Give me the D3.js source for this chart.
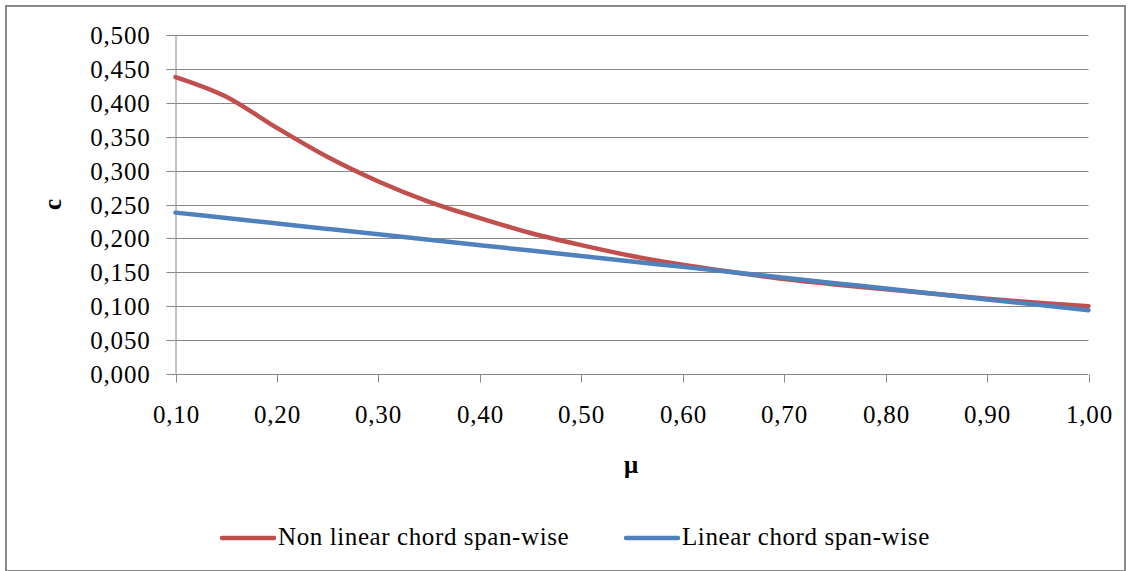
<!DOCTYPE html>
<html>
<head>
<meta charset="utf-8">
<script src="https://cdn.jsdelivr.net/npm/d3@7"></script>
<style>
  html, body { margin: 0; padding: 0; background: #fff; }
  #wrap { position: relative; width: 1132px; height: 571px; overflow: hidden; }
  #wrap svg { position: absolute; left: 0; top: 0; display: block; }
  .lbl {
    position: absolute;
    font-family: 'Liberation Serif', 'Times New Roman', serif;
    font-size: 25px;
    line-height: 1;
    color: #000;
    white-space: nowrap;
  }
</style>
</head>
<body>
<div id="wrap"></div>
<script>
// data
const mu = [0.10, 0.15, 0.20, 0.25, 0.30, 0.35, 0.40, 0.45, 0.50, 0.55,
            0.60, 0.65, 0.70, 0.75, 0.80, 0.85, 0.90, 0.95, 1.00];
const nonLinear = [0.438, 0.409, 0.363, 0.320, 0.284, 0.254, 0.230, 0.208, 0.190, 0.174,
                   0.161, 0.150, 0.140, 0.132, 0.125, 0.118, 0.111, 0.105, 0.100];
const linear = [0.238, 0.230, 0.222, 0.214, 0.206, 0.198, 0.190, 0.182, 0.174, 0.166,
                0.158, 0.150, 0.142, 0.134, 0.126, 0.118, 0.110, 0.102, 0.094];
const xTicks = [0.1, 0.2, 0.3, 0.4, 0.5, 0.6, 0.7, 0.8, 0.9, 1.0];
const yTicks = [0, 0.05, 0.1, 0.15, 0.2, 0.25, 0.3, 0.35, 0.4, 0.45, 0.5];
const seriesNames = ['Non linear chord span-wise', 'Linear chord span-wise'];
const seriesColors = ['#C0504D', '#4F81BD'];

const width = 1132, height = 571;
const gridColor = '#878787';

const wrap = d3.select('#wrap');
const svg = wrap.append('svg')
  .attr('width', width)
  .attr('height', height);

// outer chart border
svg.append('rect')
  .attr('x', 6).attr('y', 6)
  .attr('width', 1119).attr('height', 565)
  .attr('fill', 'none')
  .attr('stroke', '#8a8a8a')
  .attr('stroke-width', 2);

const x = d3.scaleLinear().domain([0.1, 1.0]).range([175.5, 1088.5]);
const y = d3.scaleLinear().domain([0, 0.5]).range([374, 35]);
const px = v => Math.round(x(v)) + 0.5;
const py = v => Math.round(y(v)) + 0.5;

const comma = d => d.toFixed(3).replace('.', ',');
const comma2 = d => d.toFixed(2).replace('.', ',');

// horizontal grid
svg.append('g')
  .selectAll('line')
  .data(yTicks.filter(d => d > 0))
  .join('line')
    .attr('x1', x(0.1)).attr('x2', x(1.0))
    .attr('y1', py).attr('y2', py)
    .attr('stroke', gridColor)
    .attr('stroke-width', 1);

// y axis (lines from d3, labels drawn as html below so the serif font is used)
const yAxis = svg.append('g')
  .attr('transform', `translate(${x(0.1)},0)`)
  .call(d3.axisLeft(y).tickValues(yTicks).tickFormat('').tickSize(9));
yAxis.select('.domain').attr('stroke', gridColor).attr('d', `M0.5,${y(0)}V${y(0.5)}`);
yAxis.selectAll('.tick line').attr('stroke', gridColor);
yAxis.selectAll('.tick').attr('transform', d => `translate(0,${py(d)})`);
yAxis.selectAll('text').remove();

// x axis
const xAxis = svg.append('g')
  .attr('transform', `translate(0,${py(0)})`)
  .call(d3.axisBottom(x).tickValues(xTicks).tickFormat('').tickSize(8));
xAxis.select('.domain').attr('stroke', gridColor).attr('d', `M${x(0.1)},0H${x(1.0)}`);
xAxis.selectAll('.tick line').attr('stroke', gridColor);
xAxis.selectAll('.tick').attr('transform', d => `translate(${px(d)},0)`);
xAxis.selectAll('text').remove();

// lines
const line = d3.line()
  .x(d => x(d[0]))
  .y(d => y(d[1]))
  .curve(d3.curveMonotoneX);

[nonLinear, linear].forEach((vals, i) => {
  svg.append('path')
    .datum(mu.map((m, j) => [m, vals[j]]))
    .attr('fill', 'none')
    .attr('stroke', seriesColors[i])
    .attr('stroke-width', 4.5)
    .attr('stroke-linecap', 'round')
    .attr('d', line);
});

// legend swatches
const legendX = [222, 626];
svg.append('g')
  .selectAll('line')
  .data(seriesNames)
  .join('line')
    .attr('x1', (d, i) => legendX[i]).attr('x2', (d, i) => legendX[i] + 52)
    .attr('y1', 538).attr('y2', 538)
    .attr('stroke', (d, i) => seriesColors[i])
    .attr('stroke-width', 4.5)
    .attr('stroke-linecap', 'round');

// ---- text (html so that Liberation Serif is picked up) ----
wrap.selectAll('div.ytick')
  .data(yTicks)
  .join('div')
    .attr('class', 'lbl ytick')
    .style('left', '0px')
    .style('width', (x(0.1) - 25) + 'px')
    .style('text-align', 'right')
    .style('letter-spacing', '0.8px')
    .style('top', d => (py(d) - 13) + 'px')
    .text(comma);

wrap.selectAll('div.xtick')
  .data(xTicks)
  .join('div')
    .attr('class', 'lbl xtick')
    .style('left', d => (px(d) - 50) + 'px')
    .style('width', '100px')
    .style('text-align', 'center')
    .style('letter-spacing', '0.8px')
    .style('top', (py(0) + 27) + 'px')
    .text(comma2);

// axis titles
wrap.append('div')
  .attr('class', 'lbl')
  .style('left', '40px').style('top', '192px')
  .style('width', '25px').style('text-align', 'center')
  .style('font-weight', 'bold')
  .style('transform', 'rotate(-90deg)')
  .text('c');
wrap.append('div')
  .attr('class', 'lbl')
  .style('left', '581px').style('top', '452px')
  .style('width', '100px').style('text-align', 'center')
  .style('font-weight', 'bold')
  .text('μ');

// legend labels
wrap.selectAll('div.leg')
  .data(seriesNames)
  .join('div')
    .attr('class', 'lbl leg')
    .style('left', (d, i) => (legendX[i] + 56) + 'px')
    .style('top', '524px')
    .style('letter-spacing', '0.6px')
    .text(d => d);
</script>
</body>
</html>
